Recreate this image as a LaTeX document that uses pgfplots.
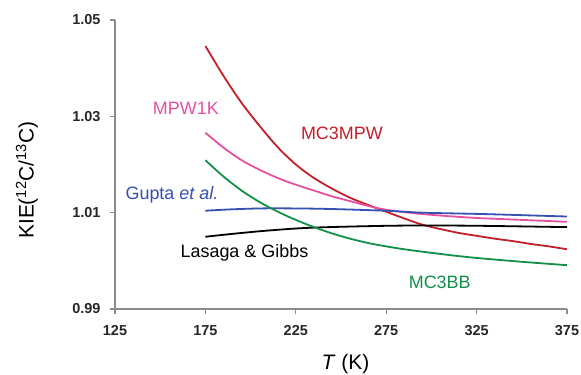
\documentclass[border=0pt]{standalone}
\usepackage{pgfplots}
\pgfplotsset{compat=1.18}
\usepackage{fontspec}
\setmainfont{Liberation Sans}
\definecolor{cred}{HTML}{C41E2A}
\definecolor{cpink}{HTML}{E5509F}
\definecolor{cblue}{HTML}{3550B0}
\definecolor{cgreen}{HTML}{12904A}
\definecolor{axisgray}{HTML}{8C8C8C}
\begin{document}
\begin{tikzpicture}
\begin{axis}[
  at={(0,0)}, anchor=south west,
  scale only axis, width=452bp, height=289bp,
  xmin=125, xmax=375, ymin=0.99, ymax=1.05,
  clip=false,
  axis x line*=bottom, axis y line*=left,
  xtick={125,175,225,275,325,375},
  ytick={0.99,1.01,1.03,1.05},
  tick align=outside, major tick length=5bp,
  axis line style={draw=axisgray, line width=1.3bp},
  tick style={draw=axisgray, line width=1.3bp},
  /pgf/number format/assume math mode=true,
  ticklabel style={font=\fontsize{14.5}{17}\selectfont\bfseries, text=black!85},
  yticklabel style={xshift=-6bp, /pgf/number format/.cd, fixed, fixed zerofill, precision=2},
  xticklabel style={yshift=-8bp, /pgf/number format/.cd, fixed, precision=0, 1000 sep={}},
  xlabel={\textit{T} (K)},
  ylabel={KIE(\textsuperscript{12}C/\textsuperscript{13}C)},
  label style={font=\fontsize{21}{24}\selectfont},
  xlabel style={at={(axis description cs:0.51,-0.19)}, anchor=center},
  ylabel style={at={(axis description cs:-0.195,0.446)}, anchor=center},
  every axis plot/.append style={line width=1.8bp, smooth},
]
% MC3MPW
\addplot[cred] coordinates {
 (175,1.0446) (185,1.0384) (195,1.0328) (205,1.0280) (215,1.0236)
 (225,1.0200) (235,1.0172) (245,1.0150) (255,1.0131) (265,1.0116)
 (275,1.0102) (285,1.0088) (295,1.0075) (305,1.0066) (315,1.0058)
 (325,1.0052) (335,1.0046) (345,1.0041) (355,1.0035) (365,1.0030) (375,1.0024)};
% MPW1K
\addplot[cpink] coordinates {
 (175,1.0266) (185,1.0235) (195,1.0209) (205,1.0189) (215,1.0172)
 (225,1.0158) (235,1.0146) (245,1.0134) (255,1.0124) (265,1.0114)
 (275,1.0106) (290,1.0099) (305,1.0094) (325,1.0089) (350,1.0085) (375,1.0081)};
% Gupta et al.
\addplot[cblue] coordinates {
 (175,1.0104) (190,1.0107) (210,1.0109) (240,1.0108) (275,1.0104)
 (295,1.0100) (330,1.0097) (375,1.0092)};
% Lasaga & Gibbs
\addplot[black] coordinates {
 (175,1.0050) (190,1.0056) (210,1.0063) (235,1.0069) (280,1.0073)
 (320,1.0073) (375,1.0070)};
% MC3BB
\addplot[cgreen] coordinates {
 (175,1.0209) (185,1.0175) (195,1.0146) (205,1.0122) (215,1.0102)
 (225,1.0085) (235,1.0070) (245,1.0057) (255,1.0046) (265,1.0037)
 (275,1.0030) (285,1.0024) (295,1.0019) (310,1.0012) (325,1.0006)
 (350,0.9998) (375,0.9991)};
\begin{scope}[every node/.style={font=\fontsize{18}{20}\selectfont, inner sep=0pt, anchor=center}]
\node[text=cpink] at (axis cs:164.2,1.0317) {MPW1K};
\node[text=cred] at (axis cs:250.5,1.0265) {MC3MPW};
\node[text=cblue] at (axis cs:156.5,1.0137) {Gupta \textit{et al.}};
\node[text=black] at (axis cs:196.6,1.0016) {Lasaga \& Gibbs};
\node[text=cgreen] at (axis cs:304.6,0.9956) {MC3BB};
\end{scope}
\end{axis}
\pgfresetboundingbox
\useasboundingbox (-115bp,-66bp) rectangle (466bp,309bp);
\end{tikzpicture}
\end{document}
